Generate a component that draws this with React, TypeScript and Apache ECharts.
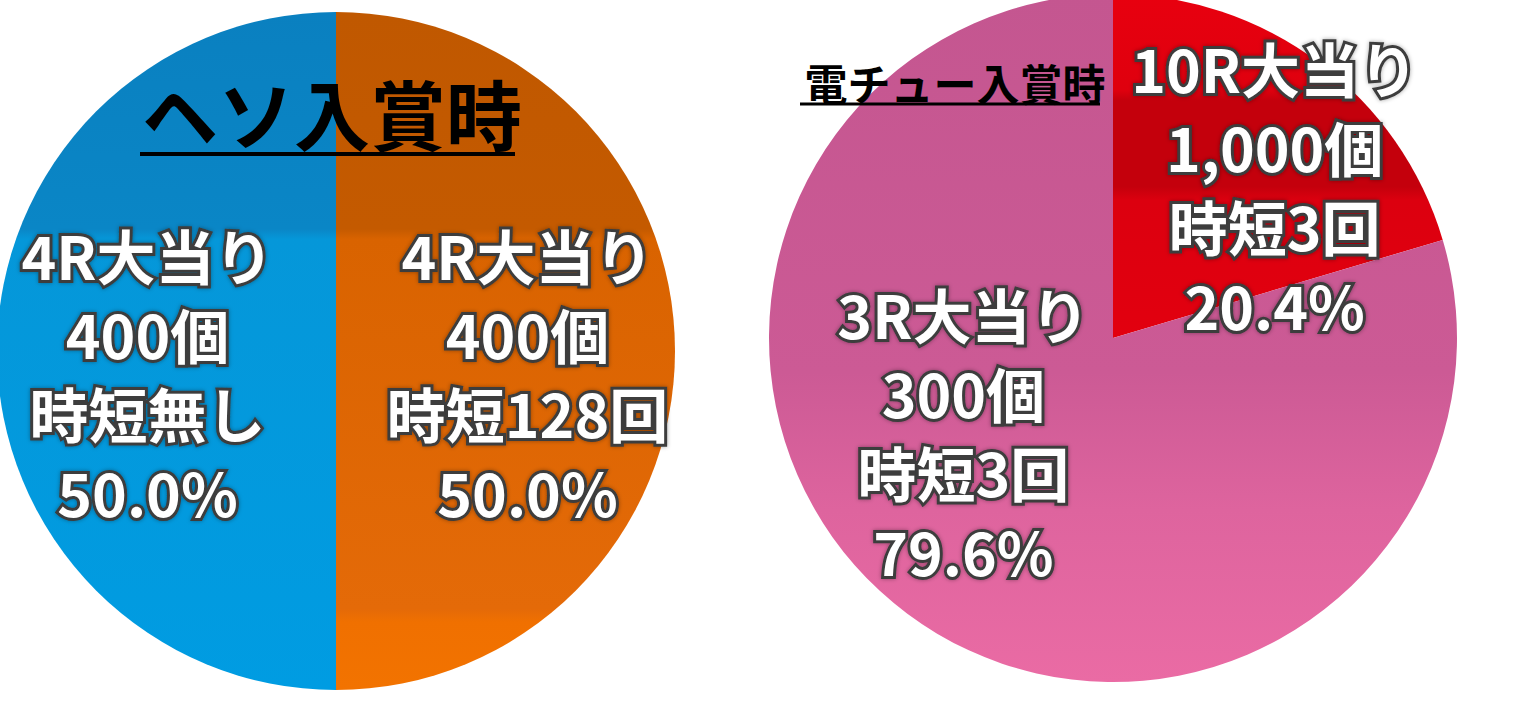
import * as echarts from 'echarts';
import React, { useEffect, useRef } from 'react';

// ヘソ入賞時 (left pie), listed left slice first
const hesoRounds = ['4R大当り', '4R大当り'];
const hesoPayout = ['400個', '400個'];
const hesoJitan = ['時短無し', '時短128回'];
const hesoShare = [50.0, 50.0];

// 電チュー入賞時 (right pie)
const denchuRounds = ['10R大当り', '3R大当り'];
const denchuPayout = ['1,000個', '300個'];
const denchuJitan = ['時短3回', '時短3回'];
const denchuShare = [20.4, 79.6];

const titles = ['ヘソ入賞時', '電チュー入賞時'];

const grad = (stops: [number, string][]) =>
  new echarts.graphic.LinearGradient(
    0, 0, 0, 1,
    stops.map(([offset, color]) => ({ offset, color }))
  );

const hesoColors = [
  grad([[0, '#0a80c0'], [0.32, '#0a86c6'], [0.335, '#0597d9'], [1, '#009ce2']]),
  grad([[0, '#c05800'], [0.32, '#c45a00'], [0.335, '#d96300'], [0.88, '#e46a08'], [0.9, '#f07000'], [1, '#f27300']]),
];
const denchuColors = [
  grad([[0, '#e8000f'], [0.28, '#df000e'], [0.31, '#c4000c'], [0.56, '#c4000c'], [0.6, '#dc000f'], [1, '#e2000f']]),
  grad([[0, '#c45690'], [0.55, '#cc5a95'], [0.75, '#de649e'], [1, '#ea6ba4']]),
];

const labelFont = '"Noto Sans CJK JP", "Noto Sans", sans-serif';

const labelStyle = {
  show: true,
  position: 'inside',
  color: '#ffffff',
  fontFamily: labelFont,
  fontWeight: 'bold',
  fontSize: 59,
  lineHeight: 79,
  textBorderColor: '#3c3c3c',
  textBorderWidth: 6,
  textShadowColor: 'rgba(0,0,0,0.35)',
  textShadowBlur: 4,
  align: 'center',
};

// offsets from the inside label spot to where the reference puts each label
const hesoOffsets = [[-16, 22], [19, 22]];
const denchuOffsets = [[57, -12], [-45, -46]];

const App: React.FC = () => {
  const chartRef = useRef<HTMLDivElement>(null);

  useEffect(() => {
    document.body.style.margin = '0';
    const myChart = echarts.init(chartRef.current!, null, { renderer: 'svg' });

    const hesoData = hesoShare.map((v, i) => ({
      name: `${hesoRounds[i]}\n${hesoPayout[i]}\n${hesoJitan[i]}\n${v.toFixed(1)}%`,
      value: v,
      itemStyle: { color: hesoColors[i] },
    }));
    const denchuData = denchuShare.map((v, i) => ({
      name: `${denchuRounds[i]}\n${denchuPayout[i]}\n${denchuJitan[i]}\n${v.toFixed(1)}%`,
      value: v,
      itemStyle: { color: denchuColors[i] },
    }));

    const option = {
      animation: false,
      backgroundColor: '#ffffff',
      title: [
        {
          text: titles[0],
          left: 327,
          top: 69,
          textAlign: 'center',
          textStyle: { fontFamily: labelFont, fontWeight: 'bold', fontSize: 76, color: '#000' },
        },
        {
          text: titles[1],
          left: 950,
          top: 55,
          textAlign: 'center',
          textStyle: { fontFamily: labelFont, fontWeight: 'bold', fontSize: 43, color: '#000' },
        },
      ],
      graphic: [
        { type: 'line', shape: { x1: 140, y1: 154, x2: 515, y2: 154 }, style: { stroke: '#000', lineWidth: 4 }, z: 100 },
        { type: 'line', shape: { x1: 800, y1: 104, x2: 1100, y2: 104 }, style: { stroke: '#000', lineWidth: 3 }, z: 100 },
      ],
      series: [
        {
          type: 'pie',
          center: [336, 351],
          radius: 339,
          clockwise: false,
          startAngle: 90,
          silent: true,
          data: hesoData,
          label: { ...labelStyle, formatter: '{b}' },
          labelLine: { show: false },
          labelLayout: (p: any) => ({ dx: hesoOffsets[p.dataIndex][0], dy: hesoOffsets[p.dataIndex][1] }),
          itemStyle: { borderWidth: 0 },
          z: 1,
        },
        {
          type: 'pie',
          center: [1113, 338],
          radius: 344,
          clockwise: true,
          startAngle: 90,
          silent: true,
          data: denchuData,
          label: { ...labelStyle, formatter: '{b}' },
          labelLine: { show: false },
          labelLayout: (p: any) => ({ dx: denchuOffsets[p.dataIndex][0], dy: denchuOffsets[p.dataIndex][1] }),
          itemStyle: { borderWidth: 0 },
          z: 1,
        },
      ],
    };

    myChart.setOption(option);

    return () => {
      myChart.dispose();
    };
  }, []);

  return <div ref={chartRef} style={{ width: '1536px', height: '701px' }} />;
};

export default App;
